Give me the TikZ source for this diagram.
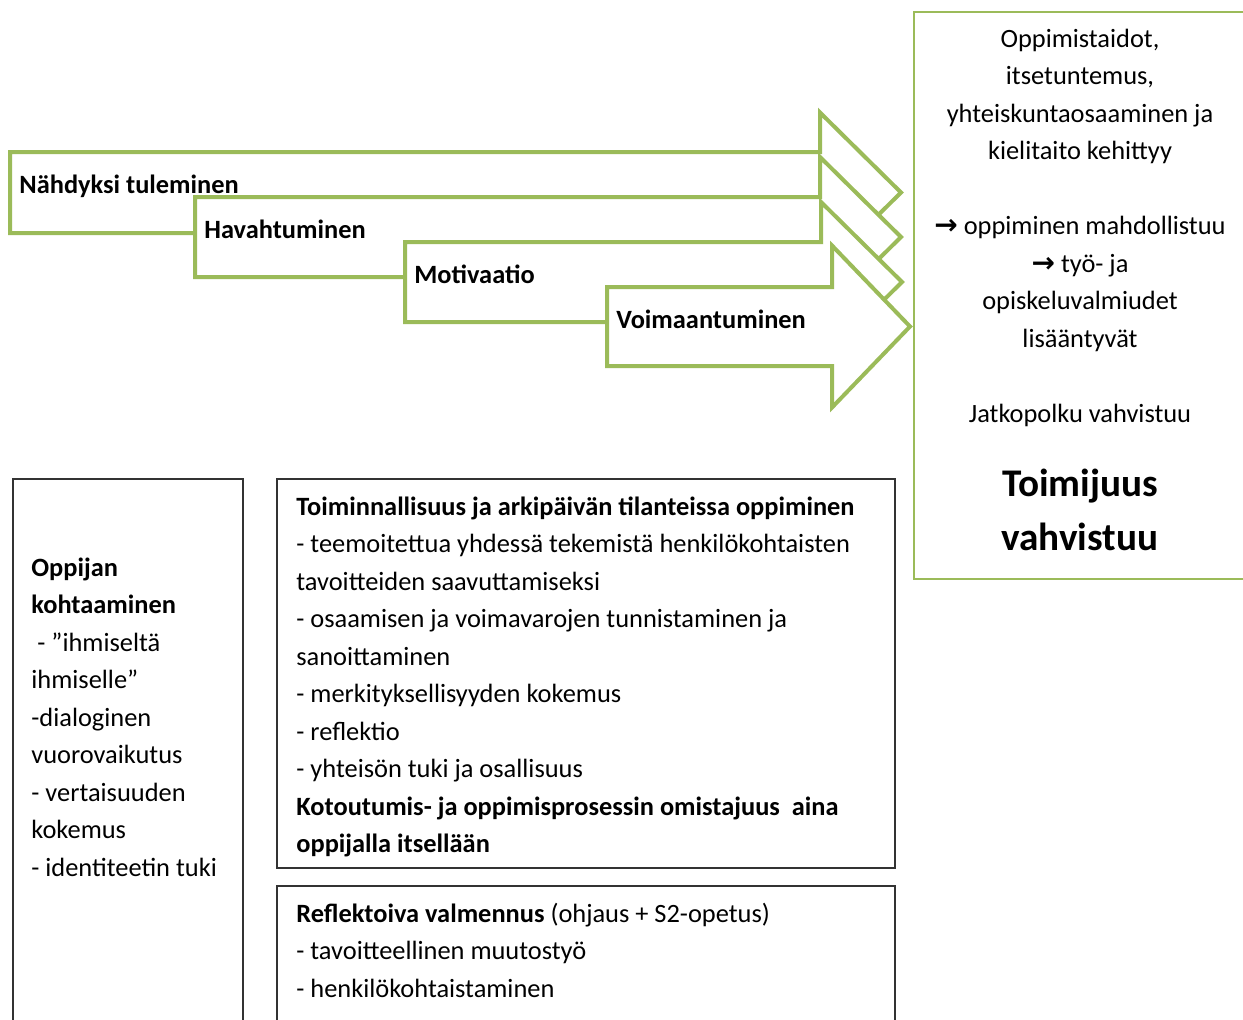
\documentclass[tikz,border=0pt]{standalone}
\usepackage{fontspec}
\setmainfont{Carlito}
\newfontfamily\symfont{DejaVu Sans}
\definecolor{leafgreen}{HTML}{9BBB59}
\newcommand\flowto{{\symfont\bfseries\fontsize{14}{18.75}\selectfont →}}
\tikzset{flowarrow/.style={draw=leafgreen, line width=2pt, fill=white, line join=miter},
         steplabel/.style={anchor=base west, inner sep=0pt,
           font=\bfseries\fontsize{13.2}{18.75}\selectfont},
         framebox/.style={draw=black!80, line width=0.7pt},
         boxtext/.style={anchor=base west, inner sep=0pt, align=left,
           font=\fontsize{13.2}{18.75}\selectfont}}

\begin{document}
\begin{tikzpicture}[x=0.5pt,y=-0.5pt]
  \useasboundingbox (0,0) rectangle (1243,1019);
  % stacked arrows, later ones on top
  \foreach \l/\t/\b/\e/\h/\tip/\name/\word in {
      10/152/233/820/80/901/seen/{Nähdyksi tuleminen},
      195/197/277/820/80/901/awake/{Havahtuminen},
      405/242/322/821/80/902/motive/{Motivaatio},
      607/287/366/832/81/910/empower/{Voimaantuminen}} {
    \pgfmathsetmacro\c{(\t+\b)/2}
    \draw[flowarrow] (\l,\t) -- (\e,\t) -- (\e,\c-\h) -- (\tip,\c)
      -- (\e,\c+\h) -- (\e,\b) -- (\l,\b) -- cycle;
    \node[steplabel] (\name) at (\l+9,\t+41) {\word};
  }
  % outcome box (multi-line nodes sit on their last baseline)
  \draw[draw=leafgreen, line width=0.75pt] (914,12) rectangle (1262,579);
  \node[boxtext, anchor=base, align=center] (outcome) at (1080,422)
    {Oppimistaidot,\\ itsetuntemus,\\ yhteiskuntaosaaminen ja\\ kielitaito kehittyy\\[18.75pt]
     \flowto\ oppiminen mahdollistuu\\ \flowto\ työ- ja\\ opiskeluvalmiudet\\
     lisääntyvät\\[18.75pt] Jatkopolku vahvistuu};
  \node[anchor=base, inner sep=0pt, align=center,
        font=\bfseries\fontsize{19.6}{27}\selectfont] (agency) at (1080,550)
    {Toimijuus\\ vahvistuu};
  % lower boxes
  \draw[framebox] (13,479) rectangle (243,1030);
  \draw[framebox] (277,479) rectangle (895,868);
  \draw[framebox] (277,886) rectangle (895,1030);
  \node[boxtext] (meeting) at (31,876)
    {\textbf{Oppijan}\\ \textbf{kohtaaminen}\\ \ - ”ihmiseltä\\ ihmiselle”\\ -dialoginen\\
     vuorovaikutus\\ - vertaisuuden\\ kokemus\\ - identiteetin tuki};
  \node[boxtext] (learning) at (296,852.5)
    {\textbf{Toiminnallisuus ja arkipäivän tilanteissa oppiminen}\\
     - teemoitettua yhdessä tekemistä henkilökohtaisten\\ tavoitteiden saavuttamiseksi\\
     - osaamisen ja voimavarojen tunnistaminen ja\\ sanoittaminen\\
     - merkityksellisyyden kokemus\\ - reflektio\\ - yhteisön tuki ja osallisuus\\
     \textbf{Kotoutumis- ja oppimisprosessin omistajuus \ aina}\\ \textbf{oppijalla itsellään}};
  \node[boxtext] (coaching) at (296,997)
    {\textbf{Reflektoiva valmennus} (ohjaus + S2-opetus)\\ - tavoitteellinen muutostyö\\
     - henkilökohtaistaminen};
\end{tikzpicture}
\end{document}
